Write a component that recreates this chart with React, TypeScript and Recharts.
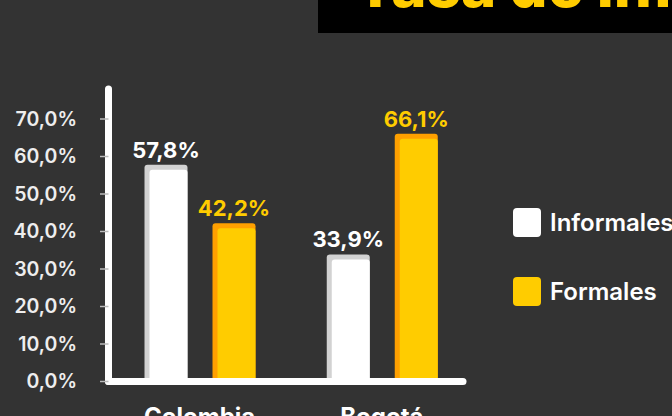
import { Bar, BarChart, LabelList, Legend, ReferenceLine, XAxis, YAxis } from "recharts";

const categories = ["Colombia", "Bogotá"];
const informales = [0.578, 0.339];
const formales = [0.422, 0.661];
const yTicks = [0, 0.1, 0.2, 0.3, 0.4, 0.5, 0.6, 0.7];
const legendOrder = ["Informales", "Formales"];

const BG = "#333333";
const YELLOW = "#FFCC00";
const ORANGE = "#FFA000";
const WHITE = "#FFFFFF";
const GREY_EDGE = "#D2D2D2";

const data = categories.map((name, i) => ({
  name,
  informales: informales[i],
  formales: formales[i],
}));

const pct = (v: number) => (v * 100).toFixed(1).replace(".", ",") + "%";

// barra con borde "biselado" a la izquierda y arriba
function BevelBar(props: any) {
  const { x, y, width, height, fill, edge } = props;
  if (!height || height <= 0) return null;
  return (
    <g>
      <rect x={x} y={y} width={width} height={height} rx={3} fill={edge} />
      <rect x={x + 5} y={y + 5} width={width - 5} height={height - 5} rx={3} fill={fill} />
    </g>
  );
}

function LegendBox({ payload }: any) {
  const items = [...(payload || [])].sort(
    (a: any, b: any) => legendOrder.indexOf(a.value) - legendOrder.indexOf(b.value)
  );
  return (
    <div style={{ display: "flex", flexDirection: "column", gap: 40 }}>
      {items.map((p: any) => (
        <div key={p.value} style={{ display: "flex", alignItems: "center", height: 29 }}>
          <div
            style={{ width: 28, height: 29, borderRadius: 4, background: p.color, marginRight: 9 }}
          />
          <span
            style={{ color: WHITE, fontSize: 24, fontWeight: 600, fontFamily: "Inter", whiteSpace: "nowrap" }}
          >
            {p.value}
          </span>
        </div>
      ))}
    </div>
  );
}

export default function App() {
  return (
    <div
      style={{
        position: "absolute",
        top: 0,
        left: 0,
        width: 672,
        height: 416,
        overflow: "hidden",
        background: BG,
        fontFamily: "Inter",
      }}
    >
      <BarChart
        width={672}
        height={416}
        data={data}
        margin={{ top: 89, right: 199, bottom: 4.5, left: 0 }}
        barSize={43}
        barGap={25}
        style={{ fontFamily: "Inter" }}
      >
        <XAxis
          dataKey="name"
          height={30}
          axisLine={false}
          tickLine={false}
          tickSize={0}
          tickMargin={26}
          tick={{ fill: WHITE, fontSize: 24, fontWeight: 700 }}
          interval={0}
        />
        <YAxis
          width={108.5}
          domain={[0, 0.78]}
          ticks={yTicks}
          tickFormatter={pct}
          axisLine={{ stroke: WHITE, strokeWidth: 7, strokeLinecap: "round" }}
          tickLine={{ stroke: "#BBBBBB", strokeWidth: 1.5 }}
          tickSize={8.5}
          tickMargin={23}
          tick={{ fill: "#EEEEEE", fontSize: 19.5, fontWeight: 600 }}
          allowDataOverflow
        />
        <Legend
          layout="horizontal"
          align="center"
          verticalAlign="middle"
          wrapperStyle={{ left: 513, top: 208, width: "auto" }}
          content={LegendBox}
        />
        <Bar
          dataKey="informales"
          name="Informales"
          fill={WHITE}
          isAnimationActive={false}
          shape={(p: any) => <BevelBar {...p} edge={GREY_EDGE} />}
        >
          <LabelList
            dataKey="informales"
            position="top"
            offset={7}
            formatter={(v: any) => pct(Number(v))}
            fill={WHITE}
            fontSize={22}
            fontWeight={700}
          />
        </Bar>
        <Bar
          dataKey="formales"
          name="Formales"
          fill={YELLOW}
          isAnimationActive={false}
          shape={(p: any) => <BevelBar {...p} edge={ORANGE} />}
        >
          <LabelList
            dataKey="formales"
            position="top"
            offset={7}
            formatter={(v: any) => pct(Number(v))}
            fill={YELLOW}
            fontSize={22}
            fontWeight={700}
          />
        </Bar>
        <ReferenceLine
          y={0}
          shape={(p: any) => (
            <line
              x1={p.x1}
              y1={p.y1}
              x2={p.x2 - 10}
              y2={p.y2}
              stroke={WHITE}
              strokeWidth={7}
              strokeLinecap="round"
            />
          )}
        />
      </BarChart>
      <svg
        width={672}
        height={416}
        style={{ position: "absolute", top: 0, left: 0, pointerEvents: "none" }}
      >
        <rect x={318} y={0} width={354} height={33} fill="#000000" />
        <text x={355} y={7} fill={YELLOW} fontSize={60} fontWeight={800} fontFamily="Inter">
          Tasa de informalidad
        </text>
      </svg>
    </div>
  );
}
